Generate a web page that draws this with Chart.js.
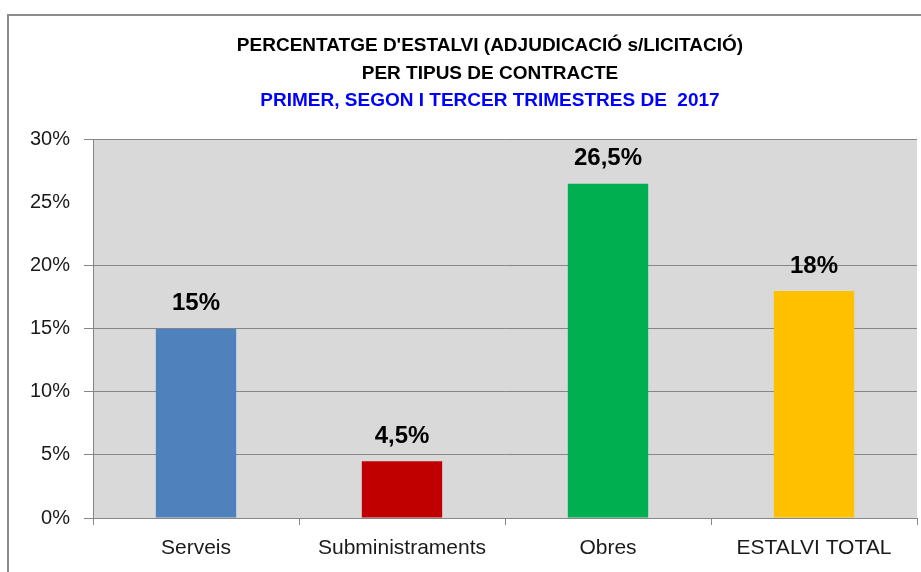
<!DOCTYPE html>
<html>
<head>
<meta charset="utf-8">
<script src="https://cdn.jsdelivr.net/npm/chart.js@4/dist/chart.umd.min.js"></script>
<style>
html,body{margin:0;padding:0;background:#fff;}
#wrap{width:921px;height:572px;position:relative;}
</style>
</head>
<body>
<div id="wrap"><canvas id="c" width="921" height="572"></canvas></div>
<script>
const categories = ["Serveis", "Subministraments", "Obres", "ESTALVI TOTAL"];
const savings = [15, 4.5, 26.5, 18];
const barColors = ["#4f81bd", "#c00000", "#00b050", "#ffc000"];
const yTicks = [0, 5, 10, 15, 20, 25, 30];
const titleLines = ["PERCENTATGE D'ESTALVI (ADJUDICACIÓ s/LICITACIÓ)", "PER TIPUS DE CONTRACTE"];
const subtitleText = "PRIMER, SEGON I TERCER TRIMESTRES DE  2017";

const FONT = "'Liberation Sans', Arial, sans-serif";
const GRID = "#868686";

function fmt(v){ return String(v).replace('.', ',') + '%'; }

const framePlugin = {
  id: 'frame',
  afterLayout(chart){
    chart.boxes.forEach(b => {
      if (b.options && b.options.text !== undefined && b.position === 'top') {
        b.left = 63;
        b.width = b.right - b.left;
      }
    });
  },
  beforeDraw(chart){
    const {ctx, chartArea:a} = chart;
    ctx.save();
    ctx.fillStyle = '#d9d9d9';
    ctx.fillRect(a.left, a.top, a.right - a.left, a.bottom - a.top);
    ctx.strokeStyle = '#8c8c8c';
    ctx.lineWidth = 2;
    ctx.beginPath();
    ctx.moveTo(8, 572);
    ctx.lineTo(8, 15);
    ctx.lineTo(921, 15);
    ctx.stroke();
    ctx.restore();
  }
};

const labelPlugin = {
  id: 'vals',
  afterDatasetsDraw(chart){
    const {ctx} = chart;
    const meta = chart.getDatasetMeta(0);
    ctx.save();
    ctx.font = "bold 24px " + FONT;
    ctx.fillStyle = '#000';
    ctx.textAlign = 'center';
    ctx.textBaseline = 'middle';
    meta.data.forEach((bar, i) => {
      ctx.fillText(fmt(savings[i]), bar.x, bar.y - 25);
    });
    ctx.restore();
  }
};

new Chart(document.getElementById('c'), {
  type: 'bar',
  data: {
    labels: categories,
    datasets: [{
      data: savings,
      backgroundColor: barColors,
      borderWidth: 0,
      categoryPercentage: 1,
      barPercentage: 0.39
    }]
  },
  options: {
    responsive: false,
    animation: false,
    devicePixelRatio: 1,
    layout: { padding: { left: 0, right: 4, top: 0, bottom: 0 } },
    plugins: {
      legend: { display: false },
      tooltip: { enabled: false },
      title: {
        display: true,
        text: titleLines,
        color: '#000',
        font: { family: FONT, size: 19, weight: 'bold', lineHeight: 1.45 },
        padding: { top: 32, bottom: 0 }
      },
      subtitle: {
        display: true,
        text: subtitleText,
        color: '#0000ff',
        font: { family: FONT, size: 19, weight: 'bold', lineHeight: 1.45 },
        padding: { top: 0, bottom: 25 }
      }
    },
    scales: {
      x: {
        grid: { display: true, drawOnChartArea: false, offset: true, color: GRID, tickLength: 7, tickColor: GRID },
        border: { display: true, color: GRID, width: 1 },
        ticks: { color: '#1a1a1a', font: { family: FONT, size: 21 }, padding: 11, maxRotation: 0 },
        afterFit(s){ s.height = 54; }
      },
      y: {
        min: 0, max: 30,
        afterBuildTicks(s){ s.ticks = yTicks.map(v => ({value: v})); },
        grid: {
          color: c => (c.tick && c.tick.value === 25) ? 'rgba(0,0,0,0)' : GRID,
          tickLength: 9
        },
        border: { display: true, color: GRID, width: 1 },
        ticks: { color: '#1a1a1a', font: { family: FONT, size: 20 }, padding: 14, callback: v => v + '%' },
        afterFit(s){ s.width = 93; }
      }
    }
  },
  plugins: [framePlugin, labelPlugin]
});
</script>
</body>
</html>
